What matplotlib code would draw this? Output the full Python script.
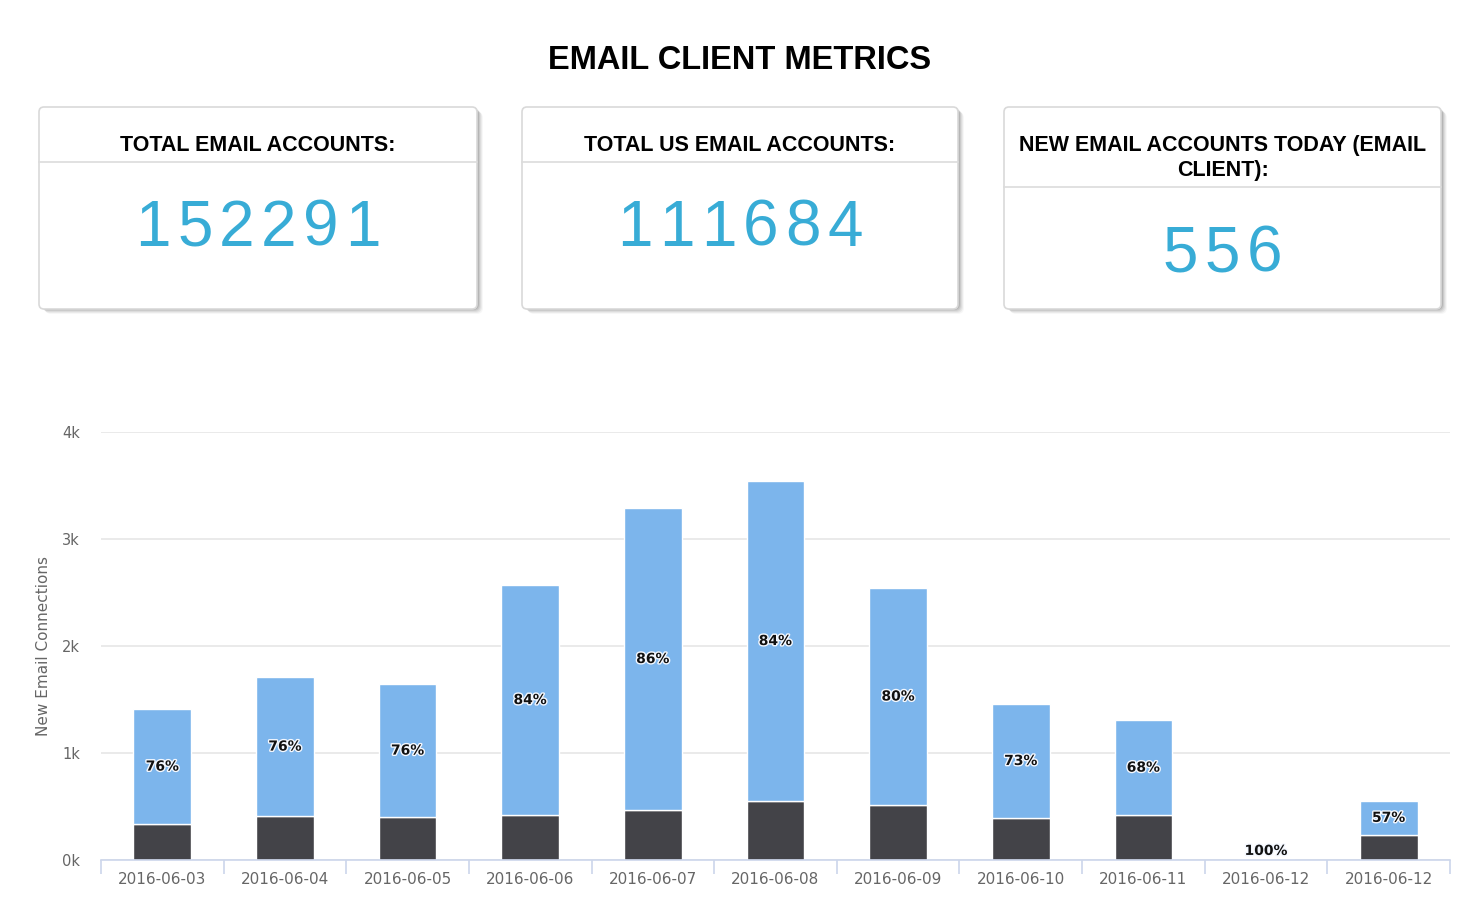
import numpy as np
import matplotlib.pyplot as plt
import matplotlib.patheffects as pe
from matplotlib.patches import FancyBboxPatch
from matplotlib.transforms import IdentityTransform

# data
dates = ['2016-06-03', '2016-06-04', '2016-06-05', '2016-06-06', '2016-06-07',
         '2016-06-08', '2016-06-09', '2016-06-10', '2016-06-11', '2016-06-12',
         '2016-06-12']
other = [336, 410, 400, 420, 467, 551, 514, 393, 418, 0, 237]
us = [1074, 1300, 1245, 2150, 2823, 2991, 2028, 1065, 890, 2, 314]

card_titles = ['TOTAL EMAIL ACCOUNTS:', 'TOTAL US EMAIL ACCOUNTS:',
               'NEW EMAIL ACCOUNTS TODAY (EMAIL\nCLIENT):']
card_values = ['152291', '111684', '556']

W, H = 1472, 900
plt.rcParams['font.family'] = ['Liberation Sans', 'DejaVu Sans']
fig = plt.figure(figsize=(W / 100, H / 100), dpi=100)
fig.patch.set_facecolor('white')


def fy(y):
    # pixel row from top -> figure fraction
    return 1 - y / H


fig.text(740 / W, fy(69), 'EMAIL CLIENT METRICS', ha='center', va='baseline',
         fontsize=23.5, fontweight='bold', color='black')

# cards: (left, right, top, bottom, header line y), in pixels from top-left
cards = [(39, 477, 107, 309, 162), (522, 958, 107, 309, 162),
         (1004, 1441, 107, 309, 187)]
for (l, r, t, b, hl), title, val in zip(cards, card_titles, card_values):
    # soft shadow
    for k, a in [(6, 0.03), (5, 0.05), (4, 0.06), (3, 0.08), (2, 0.1)]:
        fig.patches.append(FancyBboxPatch((l + k, H - b - k + 1), r - l, b - t,
                                          boxstyle='round,pad=0,rounding_size=6',
                                          transform=IdentityTransform(),
                                          facecolor='black', edgecolor='none',
                                          alpha=a, zorder=1))
    fig.patches.append(FancyBboxPatch((l, H - b), r - l, b - t,
                                      boxstyle='round,pad=0,rounding_size=5',
                                      transform=IdentityTransform(),
                                      facecolor='white', edgecolor='#d9d9d9',
                                      linewidth=1.2, zorder=2))
    fig.lines.append(plt.Line2D([l / W, r / W], [fy(hl), fy(hl)],
                                transform=fig.transFigure, color='#dcdcdc',
                                linewidth=1.2, zorder=3))
    cx = (l + r) / 2
    lines = title.split('\n')
    for i, line in enumerate(lines):
        base = hl - 11 - 25 * (len(lines) - 1 - i)
        fig.text(cx / W, fy(base), line, ha='center', va='baseline',
                 fontsize=15.5, fontweight='bold', color='black', zorder=4)
    # big number, spaced out like the original
    pitch = 42
    n = len(val)
    for i, ch in enumerate(val):
        fig.text((cx + (i - (n - 1) / 2) * pitch) / W, fy(hl + 84), ch,
                 ha='center', va='baseline', fontsize=46, color='#38acd6',
                 zorder=4)

# stacked bar chart
ax = fig.add_axes([101 / W, fy(860), (1450 - 101) / W, (860 - 432) / H])
x = np.arange(len(dates))
blue = '#7cb5ec'
dark = '#434348'
ax.bar(x, other, width=0.47, color=dark, edgecolor='white', linewidth=1, zorder=3)
ax.bar(x, us, width=0.47, bottom=other, color=blue, edgecolor='white',
       linewidth=1, zorder=3)

for xi, o, u in zip(x, other, us):
    pct = round(100 * u / (o + u))
    yc = max(o + u / 2, 85)
    ax.text(xi, yc, f'{pct}%', ha='center', va='center', fontsize=10,
            fontweight='bold', color='#111111', family='DejaVu Sans', zorder=5,
            path_effects=[pe.withStroke(linewidth=2, foreground='#f4f8ff')])

ax.set_xlim(-0.5, len(dates) - 0.5)
ax.set_ylim(0, 4000)
ax.set_yticks([0, 1000, 2000, 3000, 4000])
ax.set_yticklabels(['0k', '1k', '2k', '3k', '4k'])
ax.set_xticks(x)
ax.set_xticklabels(dates)
ax.set_xticks(np.arange(-0.5, len(dates), 1), minor=True)
ax.tick_params(axis='x', which='major', length=0, pad=9, labelsize=11,
               labelcolor='#666666')
ax.tick_params(axis='x', which='minor', length=10, width=1.2, color='#ccd6eb')
ax.tick_params(axis='y', length=0, pad=15, labelsize=10.5, labelcolor='#666666')
for lab in ax.get_xticklabels() + ax.get_yticklabels():
    lab.set_family('DejaVu Sans')
ax.grid(axis='y', color='#e6e6e6', linewidth=1.2, zorder=0)
for s in ['top', 'right', 'left']:
    ax.spines[s].set_visible(False)
ax.spines['bottom'].set_color('#ccd6eb')
ax.spines['bottom'].set_linewidth(1.2)
ax.spines['bottom'].set_zorder(4)
ax.set_ylabel('New Email Connections', fontsize=11, color='#666666',
              family='DejaVu Sans', labelpad=8)

fig.savefig('out.png', dpi=100)
